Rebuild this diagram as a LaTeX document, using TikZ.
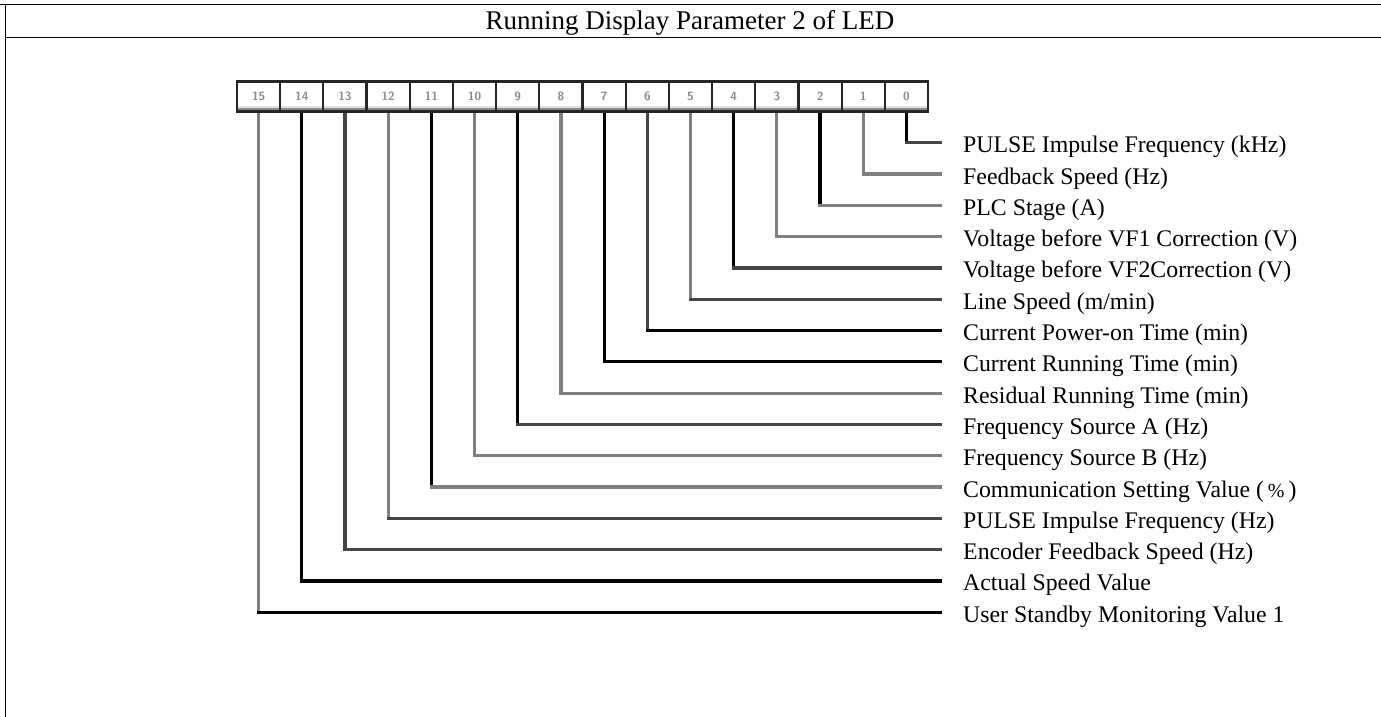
\documentclass[tikz,border=0pt]{standalone}
\usepackage{fontspec}
\setmainfont{Liberation Serif}
\usetikzlibrary{calc}
\definecolor{mgray}{gray}{0.5}
\definecolor{dgray}{gray}{0.27}
\definecolor{lgray}{gray}{0.75}
\tikzset{
  rule/.style={line width=1.4pt, draw=black},
  bitbox/.style={draw=black!85, line width=2.2pt, fill=white, minimum width=43.19pt,
    minimum height=30pt, inner sep=0pt, font=\sffamily\bfseries\fontsize{12}{12}\selectfont,
    text=black!45,
    path picture={\fill[black!45] (path picture bounding box.south west) rectangle
      ([yshift=4pt]path picture bounding box.south east);
      \fill[black!12] ([yshift=4pt]path picture bounding box.south west) rectangle
      ([yshift=6pt]path picture bounding box.south east);}},
  conn/.style={line width=3.2pt, line cap=rect},
  lbl/.style={anchor=base west, inner sep=0pt, font=\fontsize{23.8}{26}\selectfont},
  head/.style={font=\fontsize{27}{30}\selectfont, inner sep=0pt}
}
\begin{document}
\begin{tikzpicture}[x=1pt,y=1pt]
\useasboundingbox (0,0) rectangle (1381,-717);
% frame
\coordinate (tl) at (0,-4.5);
\coordinate (tr) at (1381,-4.5);
\coordinate (ml) at (5.7,-37.7);
\coordinate (mr) at (1381,-37.7);
\coordinate (lt) at (5.7,-4.5);
\coordinate (lb) at (5.7,-717);
\draw[rule] (tl) -- (tr);
\draw[rule] (ml) -- (mr);
\draw[rule] (lt) -- (lb);
\node[head, anchor=base] (hd) at (690,-30) {Running Display Parameter 2 of LED};
% row end coordinates and labels
\foreach \i/\t in {0/{PULSE Impulse Frequency (kHz)},1/{Feedback Speed (Hz)},2/{PLC Stage (A)},
  3/{Voltage before VF1 Correction (V)},4/{Voltage before VF2Correction (V)},5/{Line Speed (m/min)},
  6/{Current Power-on Time (min)},7/{Current Running Time (min)},8/{Residual Running Time (min)},
  9/{Frequency Source A (Hz)},10/{Frequency Source B (Hz)},
  11/{Communication Setting Value (\,{\fontsize{20}{20}\selectfont\%}\,)},
  12/{PULSE Impulse Frequency (Hz)},13/{Encoder Feedback Speed (Hz)},14/{Actual Speed Value},
  15/{User Standby Monitoring Value 1}}{
  \coordinate (e\i) at (940,{-(142.7+31.3*\i)});
  \node[lbl] (l\i) at (963,{-(152.7+31.3*\i)}) {\t};
}
% bit box positions
\foreach \i in {0,...,15}{
  \coordinate (c\i) at ({258.6+43.19*(15-\i)},-96.5);
}
% connectors
\foreach \i/\vc/\hc in {0/black/dgray,1/mgray/mgray,2/black/mgray,3/mgray/mgray,4/black/dgray,
  5/mgray/dgray,6/dgray/black,7/black/black,8/mgray/mgray,9/black/dgray,10/mgray/mgray,
  11/black/mgray,12/mgray/dgray,13/dgray/dgray,14/black/black,15/mgray/black}{
  \draw[conn, draw=\vc] (c\i) -- (c\i |- e\i);
  \draw[conn, draw=\hc] (c\i |- e\i) -- (e\i);
}
\foreach \i in {0,...,15}{
  \node[bitbox] (b\i) at (c\i) {\i};
}
\end{tikzpicture}
\end{document}
